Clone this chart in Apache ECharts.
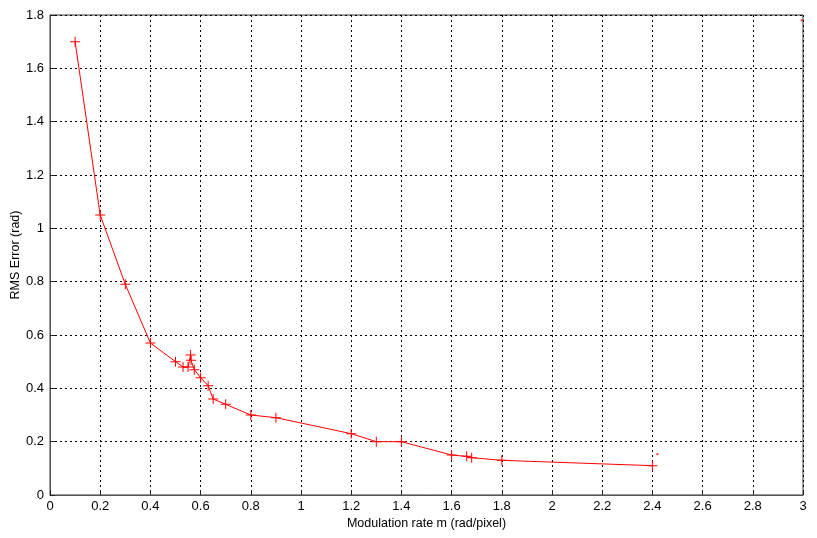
<!DOCTYPE html>
<html>
<head>
<meta charset="utf-8">
<script src="https://cdn.jsdelivr.net/npm/echarts@6/dist/echarts.min.js"></script>
<style>
  html, body { margin: 0; padding: 0; background: #fff; }
  #chart { width: 817px; height: 538px; }
</style>
</head>
<body>
<div id="chart"></div>
<script>
// modulation rate m (rad/pixel) vs RMS error (rad)
const rates = [0.1, 0.2, 0.3, 0.4, 0.5, 0.53, 0.55, 0.56, 0.562, 0.575, 0.6, 0.63, 0.65, 0.7, 0.8, 0.9, 1.2, 1.3, 1.4, 1.6, 1.66, 1.68, 1.8, 2.4]
const errors = [1.70, 1.05, 0.79, 0.57, 0.50, 0.48, 0.48, 0.525, 0.505, 0.47, 0.44, 0.41, 0.36, 0.34, 0.30, 0.29, 0.23, 0.20, 0.20, 0.15, 0.145, 0.14, 0.13, 0.11]
// stray dots
const strayRates = [2.42, 2.995]
const strayErrors = [0.153, 1.78]

const plus = 'path://M4.5,0h1v4.5h4.5v1h-4.5v4.5h-1v-4.5h-4.5v-1h4.5z'
const font = '"Liberation Sans", Arial, sans-serif'

const chart = echarts.init(document.getElementById('chart'))
chart.setOption({
  animation: false,
  backgroundColor: '#fff',
  grid: {
    left: 50, right: 14, top: 15, bottom: 43,
    outerBoundsMode: 'none',
    containLabel: false,
    show: true, borderColor: '#333', borderWidth: 1,
  },
  xAxis: {
    type: 'value',
    min: 0, max: 3, interval: 0.2,
    name: 'Modulation rate m (rad/pixel)',
    nameLocation: 'middle',
    nameGap: 22,
    nameMoveOverlap: false,
    nameTextStyle: { fontFamily: font, fontSize: 12.5, color: '#000' },
    axisLine: { show: true, lineStyle: { color: '#555' } },
    axisTick: { show: true, inside: true, length: 5, lineStyle: { color: '#222' } },
    axisLabel: { fontFamily: font, fontSize: 13, color: '#000', margin: 5 },
    splitLine: { show: true, lineStyle: { color: '#000', type: [2, 3], width: 1 } },
  },
  yAxis: {
    type: 'value',
    min: 0, max: 1.8, interval: 0.2,
    name: 'RMS Error (rad)',
    nameLocation: 'middle',
    nameGap: 28,
    nameMoveOverlap: false,
    nameTextStyle: { fontFamily: font, fontSize: 12.5, color: '#000' },
    axisLine: { show: true, lineStyle: { color: '#555' } },
    axisTick: { show: true, inside: true, length: 5, lineStyle: { color: '#222' } },
    axisLabel: {
      fontFamily: font, fontSize: 13, color: '#000', margin: 6,
      formatter: v => String(Math.round(v * 10) / 10),
    },
    splitLine: { show: true, lineStyle: { color: '#000', type: [2, 3], width: 1 } },
  },
  series: [
    {
      type: 'line',
      data: rates.map((r, i) => [r, errors[i]]),
      symbol: plus,
      symbolSize: 10,
      showAllSymbol: true,
      lineStyle: { color: '#ff0000', width: 1 },
      itemStyle: { color: '#ff0000' },
    },
    {
      type: 'scatter',
      data: strayRates.map((r, i) => [r, strayErrors[i]]),
      symbol: 'rect',
      symbolSize: 2,
      itemStyle: { color: '#ff0000' },
    },
  ],
})
</script>
</body>
</html>
